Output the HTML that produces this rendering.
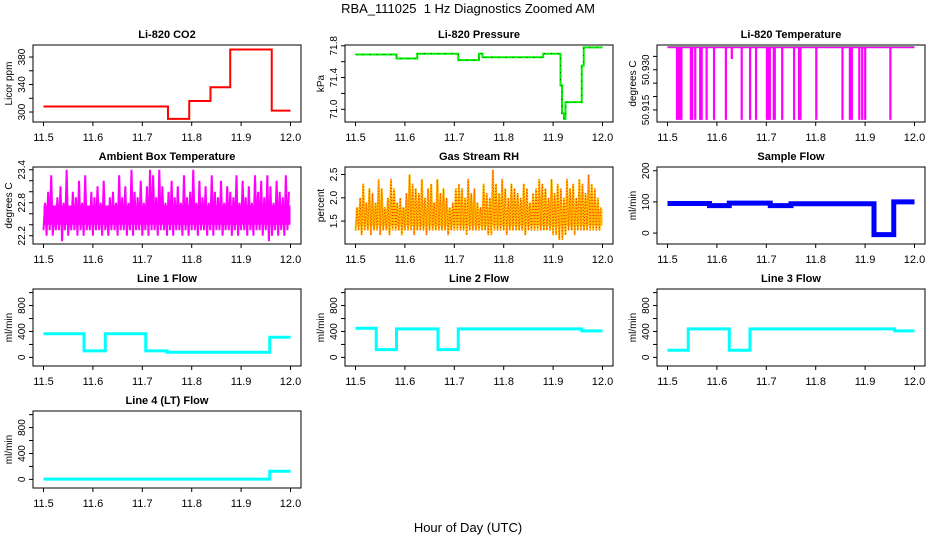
<!DOCTYPE html>
<html><head><meta charset="utf-8"><style>
body{margin:0;background:#fff}
svg{display:block;font-family:"Liberation Sans",sans-serif}
</style></head><body>
<svg id="c" width="936" height="540" viewBox="0 0 936 540">
<text x="468" y="13" text-anchor="middle" font-size="13">RBA_111025&#160; 1 Hz Diagnostics Zoomed AM</text>
<text x="468" y="532" text-anchor="middle" font-size="13">Hour of Day (UTC)</text>
</svg>
<script>
// ---- data ----
const xTicks = [11.5, 11.6, 11.7, 11.8, 11.9, 12.0];
const xTickLabels = ["11.5", "11.6", "11.7", "11.8", "11.9", "12.0"];

const co2X = [11.5, 11.752, 11.795, 11.838, 11.878, 11.962, 12.0];
const co2Y = [308, 290, 316, 336, 391, 302];

const presX = [11.5, 11.583, 11.625, 11.708, 11.75, 11.757, 11.88, 11.915, 11.918, 11.922, 11.925, 11.958, 11.962, 12.0];
const presY = [71.69, 71.64, 71.70, 71.62, 71.70, 71.655, 71.70, 71.30, 70.95, 70.88, 71.09, 71.55, 71.78];

const tempBase = 50.9383;
const tempSpikeX = [11.519, 11.522, 11.526, 11.528, 11.547, 11.550, 11.556, 11.566, 11.569, 11.579, 11.594, 11.618, 11.630, 11.650, 11.667, 11.679, 11.701, 11.704, 11.707, 11.715, 11.717, 11.732, 11.756, 11.766, 11.769, 11.801, 11.854, 11.869, 11.873, 11.888, 11.894, 11.900, 11.951];
const tempSpikeY = [50.9113, 50.9113, 50.9113, 50.9113, 50.9113, 50.9113, 50.9113, 50.9113, 50.9113, 50.9113, 50.9113, 50.9113, 50.9340, 50.9113, 50.9113, 50.9113, 50.9113, 50.9113, 50.9113, 50.9113, 50.9113, 50.9113, 50.9113, 50.9113, 50.9113, 50.9113, 50.9113, 50.9113, 50.9113, 50.9113, 50.9113, 50.9113, 50.9113];

const ambHi = [22.8,23.0,23.3,22.7,22.9,23.1,22.8,23.4,22.7,23.0,22.9,23.2,22.8,23.3,22.7,23.0,22.9,23.1,22.8,23.2,22.7,22.9,23.0,22.8,23.3,22.9,23.1,22.8,23.4,23.0,22.9,23.2,22.8,23.1,23.4,23.3,22.9,23.4,23.1,22.8,23.0,23.2,22.9,23.1,22.8,23.3,22.9,23.0,23.4,22.8,23.2,22.9,23.1,22.8,23.3,23.0,22.9,23.2,22.8,23.1,23.0,22.9,23.3,22.8,23.2,22.9,23.1,22.8,23.3,23.0,23.2,22.9,23.3,23.1,22.8,23.2,23.0,22.9,23.3,23.0];
const ambLo = [22.3,22.2,22.3,22.2,22.3,22.3,22.1,22.3,22.2,22.3,22.3,22.2,22.3,22.2,22.3,22.3,22.2,22.3,22.3,22.2,22.3,22.2,22.3,22.3,22.2,22.3,22.3,22.2,22.3,22.2,22.3,22.3,22.2,22.3,22.2,22.3,22.3,22.2,22.3,22.3,22.2,22.3,22.2,22.3,22.3,22.2,22.3,22.2,22.3,22.3,22.2,22.3,22.3,22.2,22.3,22.2,22.3,22.3,22.2,22.3,22.3,22.2,22.3,22.2,22.3,22.3,22.2,22.3,22.2,22.3,22.3,22.2,22.3,22.1,22.2,22.3,22.2,22.3,22.2,22.3];
const ambCore = [22.4, 22.75];

const rhHi = [1.8,2.0,2.3,1.9,2.2,2.1,1.9,2.4,2.2,1.8,2.0,2.4,2.2,1.9,2.0,1.8,2.1,2.5,2.3,2.2,2.1,2.4,2.0,2.2,2.3,1.9,2.4,2.1,2.2,2.0,1.8,1.9,2.2,2.3,2.2,2.0,2.4,2.1,2.2,1.9,1.8,2.3,2.1,2.0,2.6,2.3,2.1,2.4,2.2,2.0,2.3,2.2,2.1,2.0,2.3,2.2,1.9,2.1,2.2,2.4,2.3,2.2,2.0,2.4,2.1,2.3,2.2,2.0,2.4,2.2,2.3,2.0,2.4,2.3,2.1,2.5,2.3,2.2,2.0,1.8];
const rhLo = [1.3,1.3,1.2,1.3,1.3,1.2,1.3,1.3,1.2,1.3,1.3,1.2,1.3,1.3,1.3,1.2,1.3,1.3,1.3,1.2,1.3,1.3,1.3,1.2,1.3,1.3,1.3,1.3,1.3,1.3,1.2,1.3,1.3,1.3,1.3,1.3,1.2,1.3,1.3,1.3,1.3,1.3,1.3,1.2,1.2,1.3,1.3,1.3,1.3,1.2,1.3,1.3,1.3,1.3,1.3,1.2,1.3,1.3,1.3,1.3,1.3,1.3,1.3,1.3,1.2,1.2,1.1,1.1,1.2,1.3,1.3,1.2,1.3,1.3,1.3,1.3,1.3,1.3,1.3,1.3];
const rhCore = [1.4, 1.75];

const sfX = [11.5, 11.585, 11.625, 11.708, 11.75, 11.918, 11.958, 12.0];
const sfY = [95, 88, 96, 88, 94, -5, 100];

const l1X = [11.5, 11.582, 11.625, 11.707, 11.75, 11.958, 12.0];
const l1Y = [365, 100, 365, 100, 80, 310];
const l2X = [11.5, 11.542, 11.583, 11.667, 11.708, 11.958, 12.0];
const l2Y = [450, 120, 440, 120, 440, 410];
const l3X = [11.5, 11.542, 11.625, 11.667, 11.96, 12.0];
const l3Y = [110, 440, 110, 440, 410];
const l4X = [11.5, 11.958, 12.0];
const l4Y = [5, 125];

// ---- drawing ----
const svg = document.getElementById('c');
const NS = 'http://www.w3.org/2000/svg';
function mk(tag, attrs, parent) {
  const e = document.createElementNS(NS, tag);
  for (const k in attrs) e.setAttribute(k, attrs[k]);
  (parent || svg).appendChild(e);
  return e;
}
const colL = [33, 345, 657], rowT = [45, 167, 289, 411], W = 268, H = 77;

function panel(key, c, r, title, ylab, ymin, ymax, yt, ylabels) {
  const g = mk('g', {});
  
  
  const L = colL[c], T = rowT[r];
  const sx = v => L + 10.5 + (v - 11.5) / 0.5 * 247;
  const sy = v => T + H - (v - ymin) / (ymax - ymin) * H;
  const box = mk('rect', {x: L, y: T, width: W, height: H, fill: 'none', stroke: '#000', 'stroke-width': 1}, g);
  
  
  const t = mk('text', {x: L + W / 2, y: T - 7, 'text-anchor': 'middle', 'font-size': 11, 'font-weight': 'bold'}, g);
  t.textContent = title;
  
  
  const yl = mk('text', {x: 0, y: 0, 'text-anchor': 'middle', 'font-size': 10, transform: `translate(${L - 21},${T + H / 2}) rotate(-90)`}, g);
  yl.textContent = ylab;
  
  
  xTicks.forEach((v, i) => {
    mk('line', {x1: sx(v), x2: sx(v), y1: T + H, y2: T + H + 4, stroke: '#000'}, g);
    const tl = mk('text', {x: sx(v), y: T + H + 19, 'text-anchor': 'middle', 'font-size': 11}, g);
    tl.textContent = xTickLabels[i];
    
    
  });
  yt.forEach(v => mk('line', {x1: L - 4, x2: L, y1: sy(v), y2: sy(v), stroke: '#000'}, g));
  ylabels.forEach(([v, s]) => {
    const tl = mk('text', {x: 0, y: 0, 'text-anchor': 'middle', 'font-size': 10, transform: `translate(${L - 8},${sy(v)}) rotate(-90)`}, g);
    tl.textContent = s;
    
    
  });
  return {g, sx, sy};
}
function step(p, xs, ys, color, w, name) {
  let d = '';
  ys.forEach((v, i) => { d += (i ? 'L' : 'M') + p.sx(xs[i]) + ' ' + p.sy(v) + 'L' + p.sx(xs[i + 1]) + ' ' + p.sy(v); });
  const e = mk('path', {d, fill: 'none', stroke: color, 'stroke-width': w}, p.g);
  
  
  return e;
}
function noisy(p, hi, lo, core, color, w, name) {
  const n = hi.length, dx = 0.5 / n;
  const r = mk('rect', {x: p.sx(11.5), y: p.sy(core[1]), width: p.sx(12) - p.sx(11.5), height: p.sy(core[0]) - p.sy(core[1]), fill: color}, p.g);
  
  
  let pts = [];
  for (let i = 0; i < n; i++) {
    const x = 11.5 + i * dx;
    pts.push(p.sx(x) + ',' + p.sy(lo[i]));
    pts.push(p.sx(x + dx * 0.5) + ',' + p.sy(hi[i]));
  }
  const e = mk('polyline', {points: pts.join(' '), fill: 'none', stroke: color, 'stroke-width': w}, p.g);
  
  
  return pts;
}

// CO2
let p = panel('co2', 0, 0, 'Li-820 CO2', 'Licor ppm', 285.5, 397.5, [300, 320, 340, 360, 380], [[300, '300'], [340, '340'], [380, '380']]);
step(p, co2X, co2Y, '#ff0000', 2, 'co2-line');

// Pressure
p = panel('pressure', 1, 0, 'Li-820 Pressure', 'kPa', 70.84, 71.81, [71.0, 71.2, 71.4, 71.6, 71.8], [[71.0, '71.0'], [71.4, '71.4'], [71.8, '71.8']]);
step(p, presX, presY, '#00ee00', 2, 'pressure-line');
step(p, presX, presY, '#000', 0.6, 'pressure-line-dots').setAttribute('stroke-dasharray', '1 6');

// Temperature
p = panel('li820-temp', 2, 0, 'Li-820 Temperature', 'degrees C', 50.9105, 50.93925, [50.915, 50.920, 50.925, 50.930, 50.935], [[50.915, '50.915'], [50.930, '50.930']]);
const tb = mk('line', {x1: p.sx(11.5), x2: p.sx(12), y1: p.sy(tempBase), y2: p.sy(tempBase), stroke: '#ff00ff', 'stroke-width': 1.5}, p.g);


mk('line', {x1: p.sx(11.5), x2: p.sx(12), y1: p.sy(tempBase) - 1, y2: p.sy(tempBase) - 1, stroke: '#555', 'stroke-width': 0.6}, p.g);
tempSpikeX.forEach((v, i) => {
  const s = mk('rect', {x: p.sx(v) - 1, y: p.sy(tempBase), width: 2.2, height: p.sy(tempSpikeY[i]) - p.sy(tempBase), fill: '#ff00ff'}, p.g);
  
  
});

// Ambient
p = panel('ambient', 0, 1, 'Ambient Box Temperature', 'degrees C', 22.05, 23.45, [22.2, 22.4, 22.6, 22.8, 23.0, 23.2, 23.4], [[22.2, '22.2'], [22.8, '22.8'], [23.4, '23.4']]);
noisy(p, ambHi, ambLo, ambCore, '#ff00ff', 2, 'ambient-line');

// RH
p = panel('rh', 1, 1, 'Gas Stream RH', 'percent', 1.01, 2.66, [1.5, 2.0, 2.5], [[1.5, '1.5'], [2.0, '2.0'], [2.5, '2.5']]);
noisy(p, rhHi, rhLo, rhCore, '#ffc000', 2, 'rh-line');
const pts = [];
for (let i = 0; i < rhHi.length; i++) { const x = 11.5 + i * 0.5 / rhHi.length; pts.push(p.sx(x) + ',' + p.sy(rhLo[i])); pts.push(p.sx(x + 0.25 / rhHi.length) + ',' + p.sy(rhHi[i])); }
const rd = mk('polyline', {points: pts.join(' '), fill: 'none', stroke: '#ff3000', 'stroke-width': 1, 'stroke-dasharray': '1 2'}, p.g);



// Sample flow
p = panel('sample-flow', 2, 1, 'Sample Flow', 'ml/min', -35, 212, [0, 100, 200], [[0, '0'], [100, '100'], [200, '200']]);
step(p, sfX, sfY, '#0000ff', 5, 'sample-flow-line');

const flowTicks = [0, 200, 400, 600, 800, 1000];
const flowLabels = [[0, '0'], [400, '400'], [800, '800']];
p = panel('line1', 0, 2, 'Line 1 Flow', 'ml/min', -133, 1056, flowTicks, flowLabels);
step(p, l1X, l1Y, '#00ffff', 3, 'line1-flow-line');
p = panel('line2', 1, 2, 'Line 2 Flow', 'ml/min', -133, 1056, flowTicks, flowLabels);
step(p, l2X, l2Y, '#00ffff', 3, 'line2-flow-line');
p = panel('line3', 2, 2, 'Line 3 Flow', 'ml/min', -133, 1056, flowTicks, flowLabels);
step(p, l3X, l3Y, '#00ffff', 3, 'line3-flow-line');
p = panel('line4', 0, 3, 'Line 4 (LT) Flow', 'ml/min', -133, 1056, flowTicks, flowLabels);
step(p, l4X, l4Y, '#00ffff', 3, 'line4-flow-line');
</script>
</body></html>
